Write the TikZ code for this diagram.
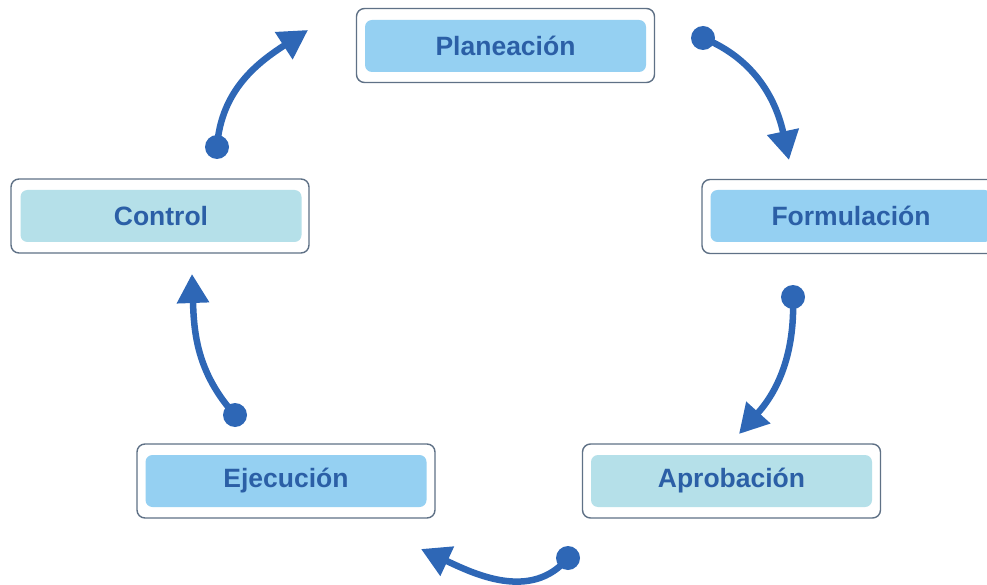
\documentclass[tikz,border=0pt]{standalone}
\usepackage{fontspec}
\setmainfont{Liberation Sans}
\usetikzlibrary{arrows.meta}
\definecolor{framec}{HTML}{5F7186}
\definecolor{fillA}{HTML}{95D0F2}
\definecolor{fillB}{HTML}{B5E0E9}
\definecolor{textc}{HTML}{2B5FA6}
\definecolor{arrowc}{HTML}{2E67B6}
\tikzset{
  frame/.style={draw=framec, line width=1.4pt, rounded corners=8pt, fill=white,
    minimum width=298pt, minimum height=74pt, inner sep=0pt},
  inA/.style={fill=fillA, rounded corners=7pt, minimum width=281pt, minimum height=52pt,
    inner sep=0pt, text=textc, font=\bfseries\fontsize{26.5}{31}\selectfont},
  inB/.style={inA, fill=fillB},
  flow/.style={draw=arrowc, line width=6.5pt, -{Triangle[length=29pt,width=31pt]}},
  dotc/.style={fill=arrowc},
}
\begin{document}
\begin{tikzpicture}[x=1pt,y=-1pt]
\useasboundingbox (0,0) rectangle (987,585);
% boxes
\node[frame] (pf) at (505.5,45.5) {};
\node[inA] (p) at (505.5,46) {Planeación};
\node[frame] (ff) at (851,216.5) {};
\node[inA] (f) at (851,216) {Formulación};
\node[frame] (af) at (731.5,481) {};
\node[inB] (a) at (731.5,481) {Aprobación};
\node[frame] (ef) at (286,481) {};
\node[inA] (e) at (286,481) {Ejecución};
\node[frame] (cf) at (160,216) {};
\node[inB] (c) at (161,216) {Control};
% arrow anchors
\coordinate (s1) at (217,147); \coordinate (t1) at (308,30);
\coordinate (s2) at (703,38);  \coordinate (t2) at (789,160);
\coordinate (s3) at (793,297); \coordinate (t3) at (739,434);
\coordinate (s4) at (568,558); \coordinate (t4) at (421,549);
\coordinate (s5) at (235,415); \coordinate (t5) at (192,274);
% arrows
\draw[flow] (s1) to[out=86, in=213] (t1);
\draw[flow] (s2) to[out=-22, in=102] (t2);
\draw[flow] (s3) to[out=-88, in=48] (t3);
\draw[flow] (s4) to[out=-130, in=-25] (t4);
\draw[flow] (s5) to[out=132, in=-88] (t5);
\foreach \s in {s1,s2,s3,s4,s5} \fill[dotc] (\s) circle (12pt);
\end{tikzpicture}
\end{document}
